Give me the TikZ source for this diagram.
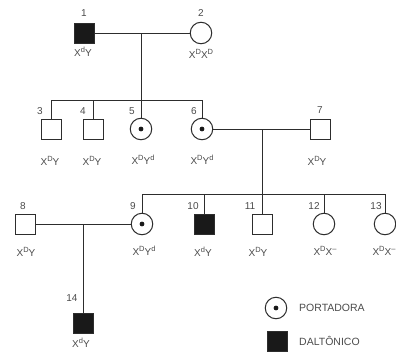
\documentclass[tikz,border=0pt]{standalone}
\usepackage{fontspec}
\setmainfont{Liberation Sans}
\definecolor{pedline}{RGB}{45, 45, 45}
\definecolor{pedfill}{RGB}{25, 25, 25}
\definecolor{pedtext}{RGB}{75, 75, 75}
\usepackage{tikz}

\tikzset{
  male/.style={rectangle, draw=pedline, line width=1pt, minimum size=20pt, inner sep=0pt},
  female/.style={circle, draw=pedline, line width=1pt, minimum size=21.5pt, inner sep=0pt},
  affected/.style={fill=pedfill},
  rel/.style={draw=pedline, line width=1pt},
  num/.style={text=pedtext, inner sep=0pt, font=\fontsize{10}{11}\selectfont},
  geno/.style={text=pedtext, inner sep=0pt, font=\fontsize{10}{11}\selectfont},
  legtext/.style={text=pedtext, inner sep=0pt, anchor=west, font=\fontsize{10.5}{12}\selectfont},
}
\newcommand{\carrier}[1]{\fill[pedfill] (#1) circle (2.4pt);}
\newcommand{\gsup}[1]{\raisebox{0.85ex}{\fontsize{7.5}{8}\selectfont #1}}

\begin{document}
\begin{tikzpicture}[x=1pt, y=-1pt]
  \useasboundingbox (0,0) rectangle (396,356);

  % generation I
  \node[male, affected] (i1) at (84,33) {};
  \node[female] (i2) at (201,33) {};
  \node[num] (n1) at (84,13) {1};
  \node[num] (n2) at (201,13) {2};
  \node[geno] (g1) at (83,52) {X\gsup{d}Y};
  \node[geno] (g2) at (201,54) {X\gsup{D}X\gsup{D}};
  \draw[rel] (i1) -- (i2);
  \coordinate (m12) at (141,33);
  \coordinate (s1) at (141,100);

  % generation II
  \node[male] (i3) at (51,129) {};
  \node[male] (i4) at (93,129) {};
  \node[female] (i5) at (141,129) {};
  \node[female] (i6) at (202,129) {};
  \node[male] (i7) at (320,129) {};
  \carrier{i5}
  \carrier{i6}
  \node[num] (n3) at (40,111) {3};
  \node[num] (n4) at (83,111) {4};
  \node[num] (n5) at (132,111) {5};
  \node[num] (n6) at (194,111) {6};
  \node[num] (n7) at (320,110) {7};
  \node[geno] (g3) at (50,161) {X\gsup{D}Y};
  \node[geno] (g4) at (92,161) {X\gsup{D}Y};
  \node[geno] (g5) at (143,160) {X\gsup{D}Y\gsup{d}};
  \node[geno] (g6) at (202,160) {X\gsup{D}Y\gsup{d}};
  \node[geno] (g7) at (317,161) {X\gsup{D}Y};
  \draw[rel] (m12) -- (i5.north);
  \draw[rel] (i3.north) |- (i6.north |- s1) -- (i6.north);
  \draw[rel] (i4.north) -- (i4.north |- s1);
  \draw[rel] (i6) -- (i7);
  \coordinate (m67) at (262,129);
  \coordinate (s2) at (262,194);

  % generation III
  \node[male] (i8) at (25,224) {};
  \node[female] (i9) at (142,224) {};
  \node[male, affected] (i10) at (204,224) {};
  \node[male] (i11) at (262,224) {};
  \node[female] (i12) at (324,224) {};
  \node[female] (i13) at (385,224) {};
  \carrier{i9}
  \node[num] (n8) at (23,206) {8};
  \node[num] (n9) at (133,206) {9};
  \node[num] (n10) at (193,206) {10};
  \node[num] (n11) at (250,206) {11};
  \node[num] (n12) at (314,206) {12};
  \node[num] (n13) at (376,206) {13};
  \node[geno] (g8) at (26,252) {X\gsup{D}Y};
  \node[geno] (g9) at (144,251) {X\gsup{D}Y\gsup{d}};
  \node[geno] (g10) at (203,252) {X\gsup{d}Y};
  \node[geno] (g11) at (258,252) {X\gsup{D}Y};
  \node[geno] (g12) at (325,251) {X\gsup{D}X\gsup{--}};
  \node[geno] (g13) at (384,251) {X\gsup{D}X\gsup{--}};
  \draw[rel] (m67) -- (i11.north);
  \draw[rel] (i9.north) |- (i13.north |- s2) -- (i13.north);
  \draw[rel] (i10.north) -- (i10.north |- s2);
  \draw[rel] (i12.north) -- (i12.north |- s2);
  \draw[rel] (i8) -- (i9);
  \coordinate (m89) at (83,224);

  % generation IV
  \node[male, affected] (i14) at (83,323) {};
  \node[num] (n14) at (72,298) {14};
  \node[geno] (g14) at (81,343) {X\gsup{d}Y};
  \draw[rel] (m89) -- (i14.north);

  % legend
  \node[female] (lcar) at (276,308) {};
  \carrier{lcar}
  \node[legtext] (tcar) at (299,308) {PORTADORA};
  \node[male, affected] (laff) at (277,341) {};
  \node[legtext] (taff) at (299,341) {DALTÔNICO};
\end{tikzpicture}
\end{document}
